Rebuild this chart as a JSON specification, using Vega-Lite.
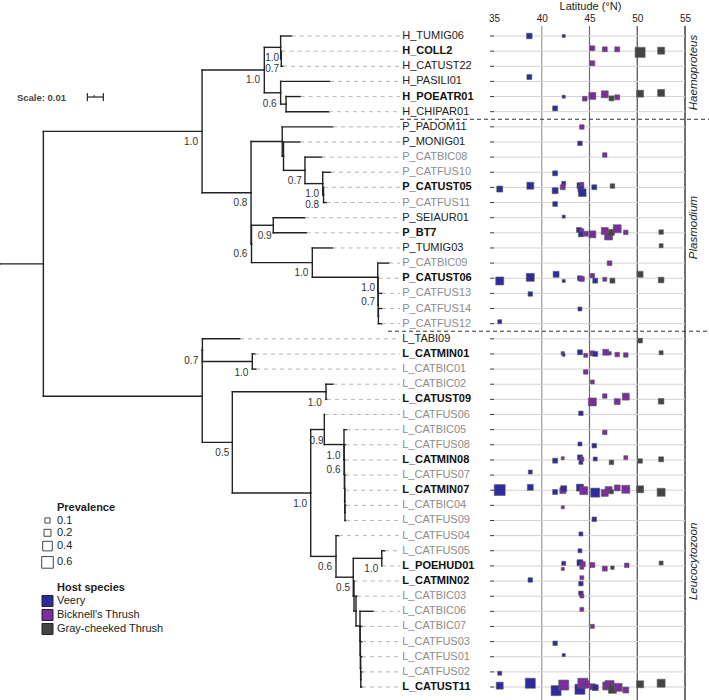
{
"$schema":"https://vega.github.io/schema/vega-lite/v6.json",
"width":709,"height":674,"autosize":"none",
"padding":{"top":26,"left":0,"right":0,"bottom":0},
"background":"white",
"config":{"font":"Liberation Sans","view":{"stroke":null}},
"datasets":{
"nodes":[
{"id":"stem","d":0,"r":16.05},
{"id":"root","p":"stem","d":27.1,"r":16.05},
{"id":"HP","p":"root","d":126.3,"r":7.30},
{"id":"H","p":"HP","d":165.2,"r":3.25},
{"id":"A","p":"H","d":175.4,"r":1.75},
{"id":"Ai","p":"A","d":175.8,"r":2.5},
{"id":"B","p":"H","d":175.4,"r":4.75},
{"id":"PC","p":"B","d":178.8,"r":5.5},
{"id":"P1","p":"HP","d":156.9,"r":11.35},
{"id":"U1","p":"P1","d":176.4,"r":7.969},
{"id":"U2","p":"U1","d":177.2,"r":8.938},
{"id":"U3","p":"U2","d":190.6,"r":9.875},
{"id":"U4","p":"U3","d":201.7,"r":10.75},
{"id":"U5","p":"U4","d":202.2,"r":11.5},
{"id":"P2","p":"P1","d":157.2,"r":14.734},
{"id":"S","p":"P2","d":170.8,"r":13.5},
{"id":"T","p":"P2","d":195.2,"r":15.969},
{"id":"T2","p":"T","d":236.1,"r":16.938},
{"id":"T3","p":"T2","d":236.3,"r":17.875},
{"id":"T4","p":"T3","d":236.4,"r":18.75},
{"id":"T5","p":"T4","d":236.5,"r":19.5},
{"id":"L0","p":"root","d":126.4,"r":24.795},
{"id":"L1","p":"L0","d":126.5,"r":21.75},
{"id":"M","p":"L1","d":157.7,"r":22.5},
{"id":"L2","p":"L0","d":145.2,"r":27.84},
{"id":"L3","p":"L2","d":203.75,"r":24.5},
{"id":"L4","p":"L2","d":194.2,"r":31.18},
{"id":"L5","p":"L4","d":202.7,"r":26.992},
{"id":"L7","p":"L5","d":215.0,"r":27.984},
{"id":"L8","p":"L7","d":215.1,"r":28.969},
{"id":"L9","p":"L8","d":215.25,"r":29.938},
{"id":"L10","p":"L9","d":215.4,"r":30.875},
{"id":"L11","p":"L10","d":215.5,"r":31.75},
{"id":"L12","p":"L11","d":215.6,"r":32.5},
{"id":"L6","p":"L4","d":210.0,"r":35.373},
{"id":"L13","p":"L6","d":220.8,"r":36.746},
{"id":"L14","p":"L13","d":238.6,"r":35.5},
{"id":"L15","p":"L13","d":221.25,"r":37.992},
{"id":"L16","p":"L15","d":222.5,"r":38.984},
{"id":"L18","p":"L16","d":225.0,"r":39.969},
{"id":"L19","p":"L18","d":225.1,"r":40.938},
{"id":"L20","p":"L19","d":225.25,"r":41.875},
{"id":"L21","p":"L20","d":225.4,"r":42.75},
{"id":"L22","p":"L21","d":225.5,"r":43.5},
{"id":"t1","n":"H_TUMIG06","p":"A","d":182.3,"r":1,"st":"r"},
{"id":"t2","n":"H_COLL2","p":"Ai","d":176.0,"r":2,"st":"f"},
{"id":"t3","n":"H_CATUST22","p":"Ai","d":176.9,"r":3,"st":"r"},
{"id":"t4","n":"H_PASILI01","p":"B","d":206.3,"r":4,"st":"r"},
{"id":"t5","n":"H_POEATR01","p":"PC","d":187.9,"r":5,"st":"f"},
{"id":"t6","n":"H_CHIPAR01","p":"PC","d":205.6,"r":6,"st":"r"},
{"id":"t7","n":"P_PADOM11","p":"U1","d":208.1,"r":7,"st":"r"},
{"id":"t8","n":"P_MONIG01","p":"U2","d":187.5,"r":8,"st":"r"},
{"id":"t9","n":"P_CATBIC08","p":"U3","d":201.1,"r":9,"st":"n"},
{"id":"t10","n":"P_CATFUS10","p":"U4","d":206.7,"r":10,"st":"n"},
{"id":"t11","n":"P_CATUST05","p":"U5","d":202.4,"r":11,"st":"f"},
{"id":"t12","n":"P_CATFUS11","p":"U5","d":204.2,"r":12,"st":"n"},
{"id":"t13","n":"P_SEIAUR01","p":"S","d":190.6,"r":13,"st":"r"},
{"id":"t14","n":"P_BT7","p":"S","d":191.7,"r":14,"st":"f"},
{"id":"t15","n":"P_TUMIG03","p":"T","d":207.9,"r":15,"st":"r"},
{"id":"t16","n":"P_CATBIC09","p":"T2","d":243.1,"r":16,"st":"n"},
{"id":"t17","n":"P_CATUST06","p":"T3","d":236.6,"r":17,"st":"f"},
{"id":"t18","n":"P_CATFUS13","p":"T4","d":238.8,"r":18,"st":"n"},
{"id":"t19","n":"P_CATFUS14","p":"T5","d":238.8,"r":19,"st":"n"},
{"id":"t20","n":"P_CATFUS12","p":"T5","d":238.8,"r":20,"st":"n"},
{"id":"t21","n":"L_TABI09","p":"L1","d":150.0,"r":21,"st":"r"},
{"id":"t22","n":"L_CATMIN01","p":"M","d":159.4,"r":22,"st":"f"},
{"id":"t23","n":"L_CATBIC01","p":"M","d":160.0,"r":23,"st":"n"},
{"id":"t24","n":"L_CATBIC02","p":"L3","d":208.3,"r":24,"st":"n"},
{"id":"t25","n":"L_CATUST09","p":"L3","d":204.4,"r":25,"st":"f"},
{"id":"t26","n":"L_CATFUS06","p":"L5","d":203.1,"r":26,"st":"n"},
{"id":"t27","n":"L_CATBIC05","p":"L7","d":216.7,"r":27,"st":"n"},
{"id":"t28","n":"L_CATFUS08","p":"L8","d":215.9,"r":28,"st":"n"},
{"id":"t29","n":"L_CATMIN08","p":"L9","d":215.6,"r":29,"st":"f"},
{"id":"t30","n":"L_CATFUS07","p":"L10","d":215.9,"r":30,"st":"n"},
{"id":"t31","n":"L_CATMIN07","p":"L11","d":215.8,"r":31,"st":"f"},
{"id":"t32","n":"L_CATBIC04","p":"L12","d":216.3,"r":32,"st":"n"},
{"id":"t33","n":"L_CATFUS09","p":"L12","d":216.3,"r":33,"st":"n"},
{"id":"t34","n":"L_CATFUS04","p":"L6","d":211.9,"r":34,"st":"n"},
{"id":"t35","n":"L_CATFUS05","p":"L14","d":240.6,"r":35,"st":"n"},
{"id":"t36","n":"L_POEHUD01","p":"L14","d":238.8,"r":36,"st":"f"},
{"id":"t37","n":"L_CATMIN02","p":"L15","d":221.6,"r":37,"st":"f"},
{"id":"t38","n":"L_CATBIC03","p":"L16","d":223.1,"r":38,"st":"n"},
{"id":"t39","n":"L_CATBIC06","p":"L18","d":233.3,"r":39,"st":"n"},
{"id":"t40","n":"L_CATBIC07","p":"L19","d":226.3,"r":40,"st":"n"},
{"id":"t41","n":"L_CATFUS03","p":"L20","d":226.3,"r":41,"st":"n"},
{"id":"t42","n":"L_CATFUS01","p":"L21","d":226.3,"r":42,"st":"n"},
{"id":"t43","n":"L_CATFUS02","p":"L22","d":226.3,"r":43,"st":"n"},
{"id":"t44","n":"L_CATUST11","p":"L22","d":226.3,"r":44,"st":"f"}
],
"sup":[{"d":123.75,"r":8.0,"s":"1.0"},{"d":162.5,"r":3.906,"s":"1.0"},{"d":174.4,"r":2.433,"s":"1.0"},{"d":174.4,"r":3.199,"s":"0.7"},{"d":172.9,"r":5.491,"s":"0.6"},{"d":154.6,"r":12.05,"s":"0.8"},{"d":154.6,"r":15.42,"s":"0.6"},{"d":188.6,"r":10.58,"s":"0.7"},{"d":199.4,"r":11.44,"s":"1.0"},{"d":199.4,"r":12.18,"s":"0.8"},{"d":169.8,"r":14.19,"s":"0.9"},{"d":192.7,"r":16.67,"s":"1.0"},{"d":234.4,"r":17.66,"s":"1.0"},{"d":234.4,"r":18.59,"s":"0.7"},{"d":123.9,"r":22.47,"s":"0.7"},{"d":155.2,"r":23.23,"s":"1.0"},{"d":143.3,"r":28.52,"s":"0.5"},{"d":201.1,"r":25.22,"s":"1.0"},{"d":202.2,"r":27.75,"s":"0.9"},{"d":212.8,"r":28.71,"s":"1.0"},{"d":212.8,"r":29.67,"s":"0.6"},{"d":191.9,"r":31.88,"s":"1.0"},{"d":207.5,"r":36.07,"s":"0.6"},{"d":236.4,"r":36.22,"s":"1.0"},{"d":218.75,"r":37.46,"s":"0.5"}],
"pts":[
{"lat":38.7,"r":1.0,"h":"Veery","p":0.12},{"lat":42.3,"r":1.0,"h":"Veery","p":0.02},
{"lat":45.3,"r":1.81,"h":"Bicknell's Thrush","p":0.09},{"lat":46.6,"r":1.88,"h":"Bicknell's Thrush","p":0.09},{"lat":47.9,"r":1.88,"h":"Bicknell's Thrush","p":0.09},{"lat":50.3,"r":2.08,"h":"Gray-cheeked Thrush","p":0.44},{"lat":52.5,"r":1.97,"h":"Gray-cheeked Thrush","p":0.2},
{"lat":45.3,"r":2.80,"h":"Bicknell's Thrush","p":0.09},
{"lat":38.7,"r":3.71,"h":"Veery","p":0.09},
{"lat":42.3,"r":5.01,"h":"Veery","p":0.02},{"lat":44.5,"r":5.14,"h":"Bicknell's Thrush","p":0.08},{"lat":45.3,"r":4.96,"h":"Bicknell's Thrush","p":0.2},{"lat":46.6,"r":4.85,"h":"Bicknell's Thrush","p":0.2},{"lat":47.3,"r":5.12,"h":"Gray-cheeked Thrush","p":0.09},{"lat":47.9,"r":5.05,"h":"Bicknell's Thrush","p":0.09},{"lat":50.3,"r":4.81,"h":"Gray-cheeked Thrush","p":0.2},{"lat":52.5,"r":4.76,"h":"Gray-cheeked Thrush","p":0.2},
{"lat":41.4,"r":5.78,"h":"Veery","p":0.09},
{"lat":44.2,"r":7.01,"h":"Bicknell's Thrush","p":0.07},
{"lat":44.0,"r":8.09,"h":"Veery","p":0.07},
{"lat":46.6,"r":8.86,"h":"Bicknell's Thrush","p":0.07},
{"lat":41.4,"r":10.07,"h":"Veery","p":0.09},
{"lat":35.6,"r":11.11,"h":"Veery","p":0.14},{"lat":38.8,"r":10.89,"h":"Veery","p":0.2},{"lat":41.4,"r":11.22,"h":"Veery","p":0.14},{"lat":42.3,"r":10.73,"h":"Veery","p":0.05},{"lat":42.2,"r":10.99,"h":"Bicknell's Thrush","p":0.09},{"lat":44.0,"r":10.89,"h":"Veery","p":0.14},{"lat":44.2,"r":10.80,"h":"Bicknell's Thrush","p":0.05},{"lat":44.1,"r":11.11,"h":"Veery","p":0.14},{"lat":44.25,"r":11.35,"h":"Veery","p":0.24},{"lat":45.5,"r":10.99,"h":"Veery","p":0.09},{"lat":47.4,"r":10.91,"h":"Gray-cheeked Thrush","p":0.07},
{"lat":41.4,"r":12.10,"h":"Veery","p":0.08},
{"lat":42.3,"r":12.93,"h":"Veery","p":0.02},
{"lat":43.9,"r":13.81,"h":"Veery","p":0.09},{"lat":44.2,"r":13.86,"h":"Bicknell's Thrush","p":0.05},{"lat":44.1,"r":14.10,"h":"Veery","p":0.09},{"lat":44.6,"r":14.06,"h":"Bicknell's Thrush","p":0.09},{"lat":45.3,"r":14.10,"h":"Bicknell's Thrush","p":0.2},{"lat":46.6,"r":13.88,"h":"Bicknell's Thrush","p":0.2},{"lat":47.0,"r":14.21,"h":"Bicknell's Thrush","p":0.27},{"lat":47.3,"r":13.97,"h":"Gray-cheeked Thrush","p":0.14},{"lat":47.9,"r":13.73,"h":"Bicknell's Thrush","p":0.27},{"lat":48.8,"r":13.97,"h":"Bicknell's Thrush","p":0.07},{"lat":52.5,"r":13.95,"h":"Gray-cheeked Thrush","p":0.07},
{"lat":52.5,"r":14.85,"h":"Gray-cheeked Thrush","p":0.05},
{"lat":47.1,"r":16.01,"h":"Bicknell's Thrush","p":0.08},
{"lat":35.6,"r":17.18,"h":"Veery","p":0.27},{"lat":38.8,"r":16.94,"h":"Veery","p":0.27},{"lat":41.5,"r":16.74,"h":"Veery","p":0.14},{"lat":42.3,"r":17.18,"h":"Veery","p":0.02},{"lat":44.0,"r":17.00,"h":"Veery","p":0.09},{"lat":44.2,"r":17.05,"h":"Bicknell's Thrush","p":0.09},{"lat":45.3,"r":16.83,"h":"Bicknell's Thrush","p":0.07},{"lat":45.6,"r":17.16,"h":"Veery","p":0.09},{"lat":46.6,"r":17.07,"h":"Bicknell's Thrush","p":0.05},{"lat":47.4,"r":17.16,"h":"Gray-cheeked Thrush","p":0.09},{"lat":50.3,"r":16.74,"h":"Gray-cheeked Thrush","p":0.14},{"lat":52.5,"r":17.12,"h":"Gray-cheeked Thrush","p":0.12},
{"lat":38.8,"r":18.04,"h":"Veery","p":0.07},
{"lat":44.0,"r":19.03,"h":"Veery","p":0.05},
{"lat":35.6,"r":19.87,"h":"Veery","p":0.05},
{"lat":50.3,"r":21.12,"h":"Gray-cheeked Thrush","p":0.08},
{"lat":42.2,"r":21.96,"h":"Bicknell's Thrush","p":0.03},{"lat":42.3,"r":22.07,"h":"Veery","p":0.01},{"lat":44.0,"r":21.89,"h":"Veery","p":0.09},{"lat":44.6,"r":22.09,"h":"Bicknell's Thrush","p":0.05},{"lat":45.3,"r":21.96,"h":"Bicknell's Thrush","p":0.09},{"lat":45.6,"r":22.0,"h":"Veery","p":0.09},{"lat":46.7,"r":21.89,"h":"Bicknell's Thrush","p":0.14},{"lat":47.1,"r":21.96,"h":"Bicknell's Thrush","p":0.03},{"lat":47.9,"r":22.04,"h":"Bicknell's Thrush","p":0.07},{"lat":48.8,"r":22.07,"h":"Bicknell's Thrush","p":0.07},{"lat":52.5,"r":21.92,"h":"Gray-cheeked Thrush","p":0.05},
{"lat":44.6,"r":23.19,"h":"Bicknell's Thrush","p":0.07},
{"lat":45.3,"r":23.85,"h":"Bicknell's Thrush","p":0.05},
{"lat":45.3,"r":25.17,"h":"Bicknell's Thrush","p":0.27},{"lat":46.6,"r":24.78,"h":"Bicknell's Thrush","p":0.07},{"lat":47.9,"r":25.15,"h":"Bicknell's Thrush","p":0.14},{"lat":48.8,"r":24.82,"h":"Bicknell's Thrush","p":0.2},{"lat":52.5,"r":25.13,"h":"Gray-cheeked Thrush","p":0.12},
{"lat":44.1,"r":25.92,"h":"Veery","p":0.07},
{"lat":46.6,"r":27.18,"h":"Bicknell's Thrush","p":0.07},
{"lat":44.0,"r":27.95,"h":"Veery","p":0.05},{"lat":45.5,"r":28.06,"h":"Veery","p":0.07},
{"lat":41.4,"r":29.05,"h":"Veery","p":0.09},{"lat":42.2,"r":28.89,"h":"Bicknell's Thrush","p":0.02},{"lat":44.0,"r":28.83,"h":"Veery","p":0.09},{"lat":44.2,"r":28.94,"h":"Bicknell's Thrush","p":0.05},{"lat":44.1,"r":29.16,"h":"Veery","p":0.05},{"lat":45.6,"r":28.94,"h":"Veery","p":0.05},{"lat":47.3,"r":29.16,"h":"Gray-cheeked Thrush","p":0.07},{"lat":48.8,"r":28.85,"h":"Bicknell's Thrush","p":0.05},{"lat":50.3,"r":29.07,"h":"Gray-cheeked Thrush","p":0.07},{"lat":52.5,"r":28.96,"h":"Gray-cheeked Thrush","p":0.09},
{"lat":38.8,"r":29.80,"h":"Veery","p":0.05},
{"lat":35.6,"r":30.99,"h":"Veery","p":0.53},{"lat":38.8,"r":30.81,"h":"Veery","p":0.14},{"lat":41.4,"r":31.12,"h":"Veery","p":0.09},{"lat":42.2,"r":31.03,"h":"Bicknell's Thrush","p":0.14},{"lat":42.3,"r":30.90,"h":"Veery","p":0.14},{"lat":44.0,"r":30.83,"h":"Veery","p":0.2},{"lat":44.4,"r":31.03,"h":"Bicknell's Thrush","p":0.27},{"lat":45.6,"r":31.16,"h":"Veery","p":0.35},{"lat":46.6,"r":31.18,"h":"Bicknell's Thrush","p":0.2},{"lat":47.0,"r":30.99,"h":"Bicknell's Thrush","p":0.2},{"lat":47.3,"r":31.10,"h":"Gray-cheeked Thrush","p":0.05},{"lat":47.9,"r":30.85,"h":"Bicknell's Thrush","p":0.14},{"lat":48.8,"r":30.94,"h":"Bicknell's Thrush","p":0.27},{"lat":50.3,"r":30.94,"h":"Gray-cheeked Thrush","p":0.2},{"lat":52.5,"r":31.14,"h":"Gray-cheeked Thrush","p":0.27},
{"lat":42.2,"r":32.13,"h":"Bicknell's Thrush","p":0.02},
{"lat":45.5,"r":32.92,"h":"Veery","p":0.07},
{"lat":44.1,"r":33.89,"h":"Veery","p":0.05},
{"lat":44.0,"r":35.0,"h":"Veery","p":0.05},
{"lat":42.3,"r":35.83,"h":"Veery","p":0.05},{"lat":42.2,"r":36.2,"h":"Bicknell's Thrush","p":0.02},{"lat":44.0,"r":35.79,"h":"Veery","p":0.14},{"lat":44.3,"r":35.88,"h":"Bicknell's Thrush","p":0.09},{"lat":44.2,"r":36.09,"h":"Bicknell's Thrush","p":0.05},{"lat":45.3,"r":35.94,"h":"Bicknell's Thrush","p":0.09},{"lat":46.6,"r":36.18,"h":"Bicknell's Thrush","p":0.09},{"lat":47.4,"r":36.12,"h":"Gray-cheeked Thrush","p":0.03},{"lat":48.9,"r":35.96,"h":"Bicknell's Thrush","p":0.07},{"lat":52.5,"r":35.81,"h":"Gray-cheeked Thrush","p":0.05},
{"lat":38.8,"r":36.93,"h":"Veery","p":0.07},{"lat":44.2,"r":36.78,"h":"Bicknell's Thrush","p":0.05},{"lat":44.1,"r":37.17,"h":"Veery","p":0.07},
{"lat":44.1,"r":37.81,"h":"Veery","p":0.07},{"lat":44.2,"r":37.99,"h":"Bicknell's Thrush","p":0.05},
{"lat":44.2,"r":38.87,"h":"Bicknell's Thrush","p":0.05},
{"lat":45.3,"r":39.99,"h":"Bicknell's Thrush","p":0.05},
{"lat":41.4,"r":41.11,"h":"Veery","p":0.07},
{"lat":42.3,"r":41.89,"h":"Veery","p":0.02},
{"lat":35.6,"r":43.09,"h":"Veery","p":0.05},
{"lat":35.6,"r":43.91,"h":"Veery","p":0.2},{"lat":38.8,"r":43.75,"h":"Veery","p":0.44},{"lat":41.5,"r":44.24,"h":"Veery","p":0.44},{"lat":42.3,"r":43.87,"h":"Bicknell's Thrush","p":0.44},{"lat":44.0,"r":44.15,"h":"Veery","p":0.44},{"lat":44.3,"r":43.75,"h":"Bicknell's Thrush","p":0.44},{"lat":44.6,"r":43.82,"h":"Bicknell's Thrush","p":0.2},{"lat":45.3,"r":43.98,"h":"Bicknell's Thrush","p":0.14},{"lat":45.6,"r":44.04,"h":"Veery","p":0.14},{"lat":46.8,"r":43.93,"h":"Bicknell's Thrush","p":0.27},{"lat":47.1,"r":43.87,"h":"Bicknell's Thrush","p":0.35},{"lat":47.4,"r":44.15,"h":"Gray-cheeked Thrush","p":0.27},{"lat":48.0,"r":44.02,"h":"Bicknell's Thrush","p":0.27},{"lat":48.8,"r":44.2,"h":"Bicknell's Thrush","p":0.14},{"lat":50.3,"r":43.82,"h":"Gray-cheeked Thrush","p":0.2},{"lat":52.5,"r":43.75,"h":"Gray-cheeked Thrush","p":0.27}
],
"grid":[{"lat":40,"k":"a"},{"lat":45,"k":"b"},{"lat":50,"k":"c"},{"lat":55,"k":"d"}],
"genus":[{"g":"Haemoproteus","lat":55.95,"r":3.41},{"g":"Plasmodium","lat":55.95,"r":13.65},{"g":"Leucocytozoon","lat":55.95,"r":35.7}],
"sep":[{"d0":250,"r":6.5},{"d0":242.5,"r":20.5}],
"bar":[{"d0":54.6,"d1":64.6,"r":5.03}],
"caps":[{"d":54.6,"r1":4.77,"r2":5.30},{"d":64.6,"r1":4.77,"r2":5.30},{"d":58.9,"r1":4.92,"r2":5.03}],
"sc":[{"d":41.25,"r":5.1,"t":"Scale: 0.01"}]
},
"layer":[
{"layer":[
 {"data":{"name":"grid"},
  "mark":{"type":"rule","strokeWidth":1.2},
  "encoding":{"x":{"field":"lat","type":"quantitative","scale":{"domain":[-16.728,57.513],"nice":false,"zero":false},
     "axis":{"orient":"top","values":[35,40,45,50,55],"domain":false,"ticks":false,"grid":false,"labelPadding":3,"labelFontSize":10,"labelColor":"#222","labelFlush":false,"title":"Latitude (°N)","titleFontSize":11,"titleFontWeight":"normal","titleColor":"#222","titlePadding":2,"titleX":590}},
   "stroke":{"field":"k","type":"nominal","scale":{"domain":["a","b","c","d"],"range":["#9a9a9a","#6e6e6e","#4a4a4a","#111111"]},"legend":null}}},
 {"data":{"name":"nodes"},
  "transform":[{"filter":"isValid(datum.n)"}],
  "mark":{"type":"rule","color":"#d2d2d2","strokeWidth":1},
  "encoding":{"x":{"datum":35,"type":"quantitative","scale":{"domain":[-16.728,57.513],"nice":false,"zero":false},
     "axis":{"orient":"top","values":[35,40,45,50,55],"domain":false,"ticks":false,"grid":false,"labelPadding":3,"labelFontSize":10,"labelColor":"#222","labelFlush":false,"title":"Latitude (°N)","titleFontSize":11,"titleFontWeight":"normal","titleColor":"#222","titlePadding":2,"titleX":590}},
   "x2":{"datum":55},
   "y":{"field":"r","type":"quantitative","scale":{"domain":[0.3395,44.857],"reverse":true,"nice":false,"zero":false},"axis":null}}},
 {"data":{"name":"nodes"},
  "transform":[{"filter":"isValid(datum.n)"}],
  "mark":{"type":"rule","color":"#333","strokeWidth":1},
  "encoding":{"x":{"datum":34.6,"type":"quantitative","scale":{"domain":[-16.728,57.513],"nice":false,"zero":false},
     "axis":{"orient":"top","values":[35,40,45,50,55],"domain":false,"ticks":false,"grid":false,"labelPadding":3,"labelFontSize":10,"labelColor":"#222","labelFlush":false,"title":"Latitude (°N)","titleFontSize":11,"titleFontWeight":"normal","titleColor":"#222","titlePadding":2,"titleX":590}},
   "x2":{"datum":35},
   "y":{"field":"r","type":"quantitative","scale":{"domain":[0.3395,44.857],"reverse":true,"nice":false,"zero":false},"axis":null}}},
 {"data":{"name":"pts"},
  "mark":{"type":"point","shape":"square","filled":true,"opacity":1,"stroke":"#5a5a5a","strokeWidth":0.6},
  "encoding":{"x":{"field":"lat","type":"quantitative","scale":{"domain":[-16.728,57.513],"nice":false,"zero":false},
     "axis":{"orient":"top","values":[35,40,45,50,55],"domain":false,"ticks":false,"grid":false,"labelPadding":3,"labelFontSize":10,"labelColor":"#222","labelFlush":false,"title":"Latitude (°N)","titleFontSize":11,"titleFontWeight":"normal","titleColor":"#222","titlePadding":2,"titleX":590}},
   "y":{"field":"r","type":"quantitative","scale":{"domain":[0.3395,44.857],"reverse":true,"nice":false,"zero":false},"axis":null},
   "size":{"field":"p","type":"quantitative","scale":{"domain":[0,0.6],"range":[5,135],"zero":false,"nice":false},
     "legend":{"title":"Prevalence","values":[0.1,0.2,0.4,0.6],"orient":"none","legendX":57,"legendY":476,"symbolType":"square","symbolFillColor":"white","symbolStrokeColor":"#444","symbolStrokeWidth":1,"symbolOffset":-16,"labelOffset":3,"titleFontSize":11,"labelFontSize":11,"titlePadding":2,"rowPadding":0.3,"labelColor":"#222","titleColor":"#222"}},
   "color":{"field":"h","type":"nominal","scale":{"domain":["Veery","Bicknell's Thrush","Gray-cheeked Thrush"],"range":["#2e2b9e","#7b2d9f","#474343"]},
     "legend":{"title":"Host species","orient":"none","legendX":57,"legendY":556,"symbolType":"square","symbolSize":121,"symbolStrokeColor":"#222","symbolStrokeWidth":1,"symbolOpacity":1,"symbolOffset":-15.5,"labelOffset":3.5,"titleFontSize":11,"labelFontSize":11,"titlePadding":2,"rowPadding":-2.9,"labelColor":"#222","titleColor":"#222"}}}},
 {"data":{"name":"genus"},
  "mark":{"type":"text","angle":270,"fontStyle":"italic","fontSize":11.5,"align":"center","baseline":"middle","color":"#222"},
  "encoding":{"x":{"field":"lat","type":"quantitative","scale":{"domain":[-16.728,57.513],"nice":false,"zero":false},
     "axis":{"orient":"top","values":[35,40,45,50,55],"domain":false,"ticks":false,"grid":false,"labelPadding":3,"labelFontSize":10,"labelColor":"#222","labelFlush":false,"title":"Latitude (°N)","titleFontSize":11,"titleFontWeight":"normal","titleColor":"#222","titlePadding":2,"titleX":590}},
   "y":{"field":"r","type":"quantitative","scale":{"domain":[0.3395,44.857],"reverse":true,"nice":false,"zero":false},"axis":null},
   "text":{"field":"g"}}}
]},
{"layer":[
 {"data":{"name":"nodes"},
  "transform":[{"filter":"isValid(datum.p)"},{"lookup":"p","from":{"data":{"name":"nodes"},"key":"id","fields":["d","r"]},"as":["pd","pr"]}],
  "mark":{"type":"rule","color":"#222","strokeWidth":1.4,"strokeCap":"square"},
  "encoding":{"x":{"field":"pd","type":"quantitative","scale":{"domain":[0,443.125],"nice":false,"zero":false},"axis":null},
   "y":{"field":"pr","type":"quantitative","scale":{"domain":[0.3395,44.857],"reverse":true,"nice":false,"zero":false},"axis":null},
   "y2":{"field":"r"}}},
 {"data":{"name":"nodes"},
  "transform":[{"filter":"isValid(datum.p)"},{"lookup":"p","from":{"data":{"name":"nodes"},"key":"id","fields":["d","r"]},"as":["pd","pr"]}],
  "mark":{"type":"rule","color":"#222","strokeWidth":1.4,"strokeCap":"square"},
  "encoding":{"x":{"field":"pd","type":"quantitative","scale":{"domain":[0,443.125],"nice":false,"zero":false},"axis":null},
   "x2":{"field":"d"},
   "y":{"field":"r","type":"quantitative","scale":{"domain":[0.3395,44.857],"reverse":true,"nice":false,"zero":false},"axis":null}}},
 {"data":{"name":"nodes"},
  "transform":[{"filter":"isValid(datum.n)"}],
  "mark":{"type":"rule","color":"#b5b5b5","strokeWidth":1,"strokeDash":[4,4]},
  "encoding":{"x":{"field":"d","type":"quantitative","scale":{"domain":[0,443.125],"nice":false,"zero":false},"axis":null},
   "x2":{"datum":250},
   "y":{"field":"r","type":"quantitative","scale":{"domain":[0.3395,44.857],"reverse":true,"nice":false,"zero":false},"axis":null}}},
 {"data":{"name":"nodes"},
  "transform":[{"filter":"datum.st == 'f'"}],
  "mark":{"type":"text","align":"left","baseline":"middle","fontSize":11,"fontWeight":"bold","color":"#111"},
  "encoding":{"x":{"datum":251.4,"type":"quantitative","scale":{"domain":[0,443.125],"nice":false,"zero":false},"axis":null},
   "y":{"field":"r","type":"quantitative","scale":{"domain":[0.3395,44.857],"reverse":true,"nice":false,"zero":false},"axis":null},
   "text":{"field":"n"}}},
 {"data":{"name":"nodes"},
  "transform":[{"filter":"datum.st == 'r'"}],
  "mark":{"type":"text","align":"left","baseline":"middle","fontSize":11,"color":"#222"},
  "encoding":{"x":{"datum":251.4,"type":"quantitative","scale":{"domain":[0,443.125],"nice":false,"zero":false},"axis":null},
   "y":{"field":"r","type":"quantitative","scale":{"domain":[0.3395,44.857],"reverse":true,"nice":false,"zero":false},"axis":null},
   "text":{"field":"n"}}},
 {"data":{"name":"nodes"},
  "transform":[{"filter":"datum.st == 'n'"}],
  "mark":{"type":"text","align":"left","baseline":"middle","fontSize":11,"color":"#8c8c8c"},
  "encoding":{"x":{"datum":251.4,"type":"quantitative","scale":{"domain":[0,443.125],"nice":false,"zero":false},"axis":null},
   "y":{"field":"r","type":"quantitative","scale":{"domain":[0.3395,44.857],"reverse":true,"nice":false,"zero":false},"axis":null},
   "text":{"field":"n"}}},
 {"data":{"name":"sup"},
  "mark":{"type":"text","align":"right","baseline":"middle","fontSize":10,"color":"#333"},
  "encoding":{"x":{"field":"d","type":"quantitative","scale":{"domain":[0,443.125],"nice":false,"zero":false},"axis":null},
   "y":{"field":"r","type":"quantitative","scale":{"domain":[0.3395,44.857],"reverse":true,"nice":false,"zero":false},"axis":null},
   "text":{"field":"s"}}},
 {"data":{"name":"sep"},
  "mark":{"type":"rule","color":"#333","strokeWidth":1,"strokeDash":[4,3]},
  "encoding":{"x":{"field":"d0","type":"quantitative","scale":{"domain":[0,443.125],"nice":false,"zero":false},"axis":null},
   "x2":{"datum":443.125},
   "y":{"field":"r","type":"quantitative","scale":{"domain":[0.3395,44.857],"reverse":true,"nice":false,"zero":false},"axis":null}}},
 {"data":{"name":"bar"},
  "mark":{"type":"rule","color":"#333","strokeWidth":1.3},
  "encoding":{"x":{"field":"d0","type":"quantitative","scale":{"domain":[0,443.125],"nice":false,"zero":false},"axis":null},
   "x2":{"field":"d1"},
   "y":{"field":"r","type":"quantitative","scale":{"domain":[0.3395,44.857],"reverse":true,"nice":false,"zero":false},"axis":null}}},
 {"data":{"name":"caps"},
  "mark":{"type":"rule","color":"#333","strokeWidth":1.3},
  "encoding":{"x":{"field":"d","type":"quantitative","scale":{"domain":[0,443.125],"nice":false,"zero":false},"axis":null},
   "y":{"field":"r1","type":"quantitative","scale":{"domain":[0.3395,44.857],"reverse":true,"nice":false,"zero":false},"axis":null},
   "y2":{"field":"r2"}}},
 {"data":{"name":"sc"},
  "mark":{"type":"text","align":"right","baseline":"middle","fontSize":9.5,"fontWeight":"bold","color":"#444"},
  "encoding":{"x":{"field":"d","type":"quantitative","scale":{"domain":[0,443.125],"nice":false,"zero":false},"axis":null},
   "y":{"field":"r","type":"quantitative","scale":{"domain":[0.3395,44.857],"reverse":true,"nice":false,"zero":false},"axis":null},
   "text":{"field":"t"}}}
]}
],
"resolve":{"scale":{"x":"independent"}}
}
